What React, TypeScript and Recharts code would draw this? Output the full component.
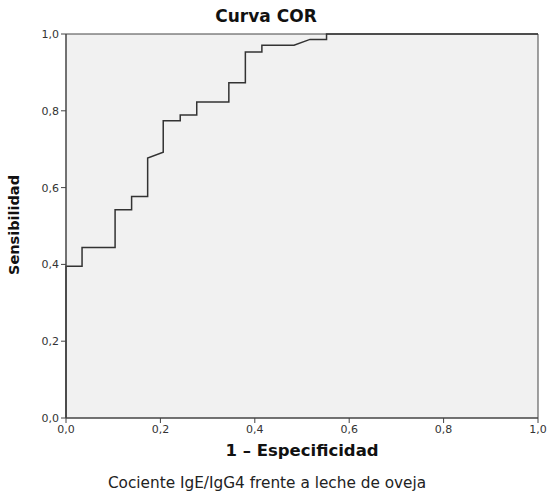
import { LineChart, Line, XAxis, YAxis, CartesianGrid, ReferenceLine } from "recharts";

// puntos de la curva COR (1 - especificidad, sensibilidad)
const fpr = [0, 0, 0.034, 0.034, 0.104, 0.104, 0.139, 0.139, 0.173, 0.173, 0.206, 0.206, 0.242, 0.242, 0.277, 0.277, 0.345, 0.345, 0.38, 0.38, 0.415, 0.415, 0.483, 0.517, 0.552, 0.552, 1];
const tpr = [0, 0.395, 0.395, 0.444, 0.444, 0.542, 0.542, 0.577, 0.577, 0.677, 0.692, 0.774, 0.774, 0.789, 0.789, 0.823, 0.823, 0.873, 0.873, 0.953, 0.953, 0.971, 0.971, 0.986, 0.986, 1, 1];
const ticks = [0, 0.2, 0.4, 0.6, 0.8, 1];

const data = fpr.map((x, i) => ({ x, y: tpr[i] }));

const fmt = (v: number) => v.toFixed(1).replace(".", ",");
const font = "'DejaVu Sans', sans-serif";
const tickStyle = { fill: "#333", fontSize: 11, fontFamily: font };

export default function App() {
  return (
    <div style={{ position: "absolute", left: 0, top: 0, width: 549, height: 494, background: "#fff", fontFamily: font }}>
      <div style={{ position: "absolute", top: 6, left: 66, width: 400, textAlign: "center", fontWeight: "bold", fontSize: 17, color: "#111" }}>
        Curva COR
      </div>
      <LineChart width={549} height={494} data={data} margin={{ top: 34, right: 11, left: 30, bottom: 46 }}>
        <CartesianGrid fill="#f1f1f1" horizontal={false} vertical={false} />
        <XAxis
          dataKey="x"
          type="number"
          domain={[0, 1]}
          ticks={ticks}
          tickFormatter={fmt}
          tick={tickStyle}
          tickSize={5}
          height={30}
          axisLine={{ stroke: "#444", strokeWidth: 1.5 }}
          tickLine={{ stroke: "#444" }}
        />
        <YAxis
          dataKey="y"
          type="number"
          domain={[0, 1]}
          ticks={ticks}
          tickFormatter={fmt}
          tick={tickStyle}
          tickSize={5}
          width={36}
          axisLine={{ stroke: "#444", strokeWidth: 1.5 }}
          tickLine={{ stroke: "#444" }}
        />
        <ReferenceLine y={1} stroke="#444" strokeWidth={1} />
        <ReferenceLine x={1} stroke="#444" strokeWidth={1} />
        <Line type="linear" dataKey="y" stroke="#333" strokeWidth={1.5} dot={false} isAnimationActive={false} />
      </LineChart>
      <div style={{ position: "absolute", top: 441, left: 66, width: 472, textAlign: "center", fontWeight: "bold", fontSize: 16.5, color: "#111" }}>
        1 – Especificidad
      </div>
      <div style={{ position: "absolute", top: 474, left: 67, width: 400, textAlign: "center", fontSize: 15.3, color: "#222" }}>
        Cociente IgE/IgG4 frente a leche de oveja
      </div>
      <div
        style={{
          position: "absolute",
          left: 14,
          top: 225,
          transform: "translate(-50%, -50%) rotate(-90deg)",
          fontWeight: "bold",
          fontSize: 14.5,
          color: "#111",
          whiteSpace: "nowrap",
        }}
      >
        Sensibilidad
      </div>
    </div>
  );
}
